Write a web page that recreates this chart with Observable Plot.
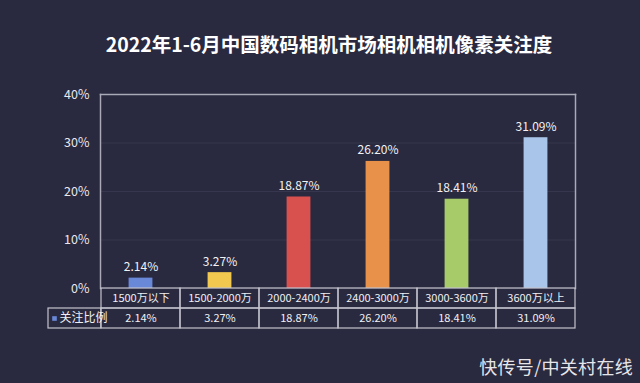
<!DOCTYPE html>
<html><head><meta charset="utf-8">
<script src="https://cdn.jsdelivr.net/npm/d3@7"></script>
<script src="https://cdn.jsdelivr.net/npm/@observablehq/plot@0.6"></script>
<style>
html,body{margin:0;padding:0;background:#29293f;}
#wrap{position:relative;width:640px;height:383px;background:#29293f;overflow:hidden;font-family:"Noto Sans CJK SC","Noto Sans",sans-serif;}
#main,#table{position:absolute;left:0;}
#main{top:0;}
#table{top:287px;}
#mark{position:absolute;right:7px;top:353px;color:#e6e6ea;font-size:18px;font-family:"Noto Sans CJK SC",sans-serif;letter-spacing:0.3px;}
</style></head>
<body><div id="wrap"><div id="main"></div><div id="table"></div><div id="mark">快传号/中关村在线</div></div>
<script>
const title = "2022年1-6月中国数码相机市场相机相机像素关注度";
const categories = ["1500万以下","1500-2000万","2000-2400万","2400-3000万","3000-3600万","3600万以上"];
const values = [2.14, 3.27, 18.87, 26.20, 18.41, 31.09];
const colors = ["#6a88d8","#f2c94e","#d9514e","#e8914b","#a6cb68","#a9c5e9"];
const yTicks = [0, 10, 20, 30, 40];
const seriesName = "关注比例";

const data = categories.map((c, i) => ({cat: c, value: values[i], color: colors[i]}));
const fmt = v => v.toFixed(2) + "%";
const W = 640, ML = 100, MR = 65;
const band = (W - ML - MR) / categories.length;
const barW = 24;
const inset = (band - barW) / 2;
const font = "'Noto Sans CJK SC','Noto Sans',sans-serif";

const main = Plot.plot({
  width: W, height: 300,
  marginLeft: ML, marginRight: MR, marginTop: 94, marginBottom: 12,
  style: {background: "transparent", fontFamily: font, color: "#e4e4ea"},
  x: {domain: categories, padding: 0, axis: null},
  y: {domain: [0, 40], ticks: yTicks, tickFormat: d => d + "%", tickSize: 0, tickPadding: 11, label: null, fontSize: 12},
  marks: [
    Plot.gridY(yTicks, {stroke: "#36364e", strokeOpacity: 1}),
    Plot.axisY(yTicks, {tickSize: 0, tickPadding: 11, tickFormat: d => d + "%", label: null, fontSize: 12.5, fill: "#e8e8ee"}),
    Plot.barY(data, {x: "cat", y: "value", fill: "color", insetLeft: inset, insetRight: inset}),
    Plot.text(data, {x: "cat", y: "value", text: d => fmt(d.value), dy: -7, lineAnchor: "bottom", fill: "#f2f2f4", fontSize: 12}),
    Plot.frame({anchor: "left", stroke: "#a9a9b8", strokeWidth: 1.5}),
    Plot.frame({anchor: "top", stroke: "#a9a9b8", strokeWidth: 1.5}),
    Plot.frame({anchor: "right", stroke: "#a9a9b8", strokeWidth: 1.5}),
    Plot.text([title], {frameAnchor: "top", dy: -49, dx: -9, text: d => d, fill: "#ffffff", fontSize: 19.5, fontWeight: "bold", lineAnchor: "middle"})
  ]
});
document.getElementById("main").appendChild(main);

const rows = ["cat", "val"];
const cells = [];
categories.forEach((c, i) => {
  cells.push({cat: c, row: "cat", text: c});
  cells.push({cat: c, row: "val", text: fmt(values[i])});
});
const table = Plot.plot({
  width: W, height: 42,
  marginLeft: ML, marginRight: MR, marginTop: 1, marginBottom: 1,
  style: {background: "transparent", fontFamily: font},
  x: {domain: categories, padding: 0, axis: null},
  y: {domain: rows, padding: 0, axis: null},
  marks: [
    Plot.cell(cells, {x: "cat", y: "row", fill: "none", stroke: "#c4c4ce", strokeWidth: 1.2}),
    Plot.cell([seriesName], {x: () => categories[0], y: () => "val", fill: "none", stroke: "#c4c4ce", strokeWidth: 1.2, insetLeft: -53, insetRight: band}),
    Plot.text(cells, {x: "cat", y: "row", text: "text", fill: "#f0f0f4", fontSize: 11}),
    Plot.dot([seriesName], {y: () => "val", frameAnchor: "left", dx: -46, symbol: "square", r: 2.6, fill: "#6a88d8"}),
    Plot.text([seriesName], {y: () => "val", frameAnchor: "left", dx: -41, text: d => d, textAnchor: "start", fill: "#f0f0f4", fontSize: 12})
  ]
});
document.getElementById("table").appendChild(table);
</script></body></html>
